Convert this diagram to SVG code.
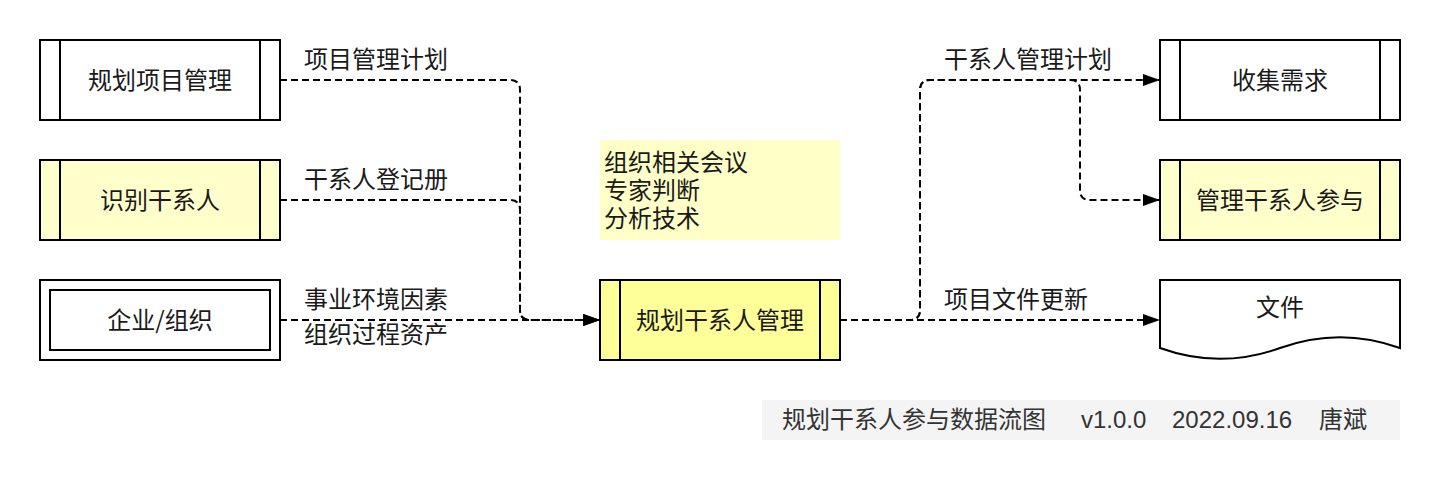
<svg xmlns="http://www.w3.org/2000/svg" width="1442" height="482" viewBox="0 0 1442 482">
  <style>
    .box { stroke: #000; stroke-width: 2; fill: #fff; }
    .yl { fill: #FFFFCC; }
    .yc { fill: #FFFF99; }
    .ln { stroke: #000; stroke-width: 2; fill: none; }
    .cn { stroke: #000; stroke-width: 2; fill: none; stroke-dasharray: 7 4; marker-end: url(#arr); }
    .cn0 { stroke: #000; stroke-width: 2; fill: none; stroke-dasharray: 7 4; }
    text { font-family: "Noto Sans CJK SC", "Liberation Sans", sans-serif; font-size: 24px; fill: #1a1a1a; }
    .c { text-anchor: middle; }
    .ft { fill: #333; }
  </style>
  <defs>
    <marker id="arr" markerWidth="17" markerHeight="12" refX="17" refY="6" orient="auto" markerUnits="userSpaceOnUse">
      <path d="M0,0 L17,6 L0,12 Z" fill="#000" stroke="none"/>
    </marker>
  </defs>
  <rect width="1442" height="482" fill="#fff"/>

  <g id="n-plan-project">
    <rect class="box" x="40" y="40" width="240" height="80"/>
    <line class="ln" x1="60" y1="40" x2="60" y2="120"/>
    <line class="ln" x1="260" y1="40" x2="260" y2="120"/>
    <text class="c" x="160" y="88.5">规划项目管理</text>
  </g>
  <g id="n-identify">
    <rect class="box yl" x="40" y="160" width="240" height="80"/>
    <line class="ln" x1="60" y1="160" x2="60" y2="240"/>
    <line class="ln" x1="260" y1="160" x2="260" y2="240"/>
    <text class="c" x="160" y="208.5">识别干系人</text>
  </g>
  <g id="n-enterprise">
    <rect class="box" x="40" y="280" width="240" height="80"/>
    <rect class="box" x="50" y="290" width="220" height="60"/>
    <text class="c" x="160" y="328.5">企业/组织</text>
  </g>
  <g id="n-note">
    <rect x="600" y="140" width="240" height="100" fill="#FFFFC8"/>
    <text x="604" y="171">组织相关会议</text>
    <text x="604" y="199">专家判断</text>
    <text x="604" y="227">分析技术</text>
  </g>
  <g id="n-center">
    <rect class="box yc" x="600" y="280" width="240" height="80"/>
    <line class="ln" x1="620" y1="280" x2="620" y2="360"/>
    <line class="ln" x1="820" y1="280" x2="820" y2="360"/>
    <text class="c" x="720" y="328.5">规划干系人管理</text>
  </g>
  <g id="n-collect">
    <rect class="box" x="1160" y="40" width="240" height="80"/>
    <line class="ln" x1="1180" y1="40" x2="1180" y2="120"/>
    <line class="ln" x1="1380" y1="40" x2="1380" y2="120"/>
    <text class="c" x="1280" y="88.5">收集需求</text>
  </g>
  <g id="n-manage">
    <rect class="box yl" x="1160" y="160" width="240" height="80"/>
    <line class="ln" x1="1180" y1="160" x2="1180" y2="240"/>
    <line class="ln" x1="1380" y1="160" x2="1380" y2="240"/>
    <text class="c" x="1280" y="208.5">管理干系人参与</text>
  </g>
  <g id="n-doc">
    <path class="box" d="M1160,280 H1400 V348 Q1340,326.4 1280,348 Q1220,369.6 1160,348 Z"/>
    <text class="c" x="1280" y="316">文件</text>
  </g>

  <g id="connectors">
    <path class="cn" d="M280,80 H510 Q520,80 520,90 V310 Q520,320 530,320 H600"/>
    <path class="cn" d="M280,200 H510 Q520,200 520,210 V310 Q520,320 530,320 H600"/>
    <path class="cn" d="M280,320 H600"/>
    <path class="cn" d="M840,320 H910 Q920,320 920,310 V90 Q920,80 930,80 H1160"/>
    <path class="cn" d="M840,320 H910 Q920,320 920,310 V90 Q920,80 930,80 H1070 Q1080,80 1080,90 V190 Q1080,200 1090,200 H1160"/>
    <path class="cn" d="M840,320 H1160"/>
    <text x="304" y="68">项目管理计划</text>
    <text x="304" y="188">干系人登记册</text>
    <text x="304" y="308">事业环境因素</text>
    <text x="304" y="343">组织过程资产</text>
    <text x="944" y="68">干系人管理计划</text>
    <text x="944" y="308">项目文件更新</text>
  </g>

  <g id="footer">
    <rect x="762" y="400" width="638" height="40" fill="#F4F4F4"/>
    <text class="ft" y="428"><tspan x="782">规划干系人参与数据流图</tspan><tspan x="1081" font-family="Liberation Sans, sans-serif">v1.0.0</tspan><tspan x="1172" font-family="Liberation Sans, sans-serif">2022.09.16</tspan><tspan x="1319">唐斌</tspan></text>
  </g>
</svg>
